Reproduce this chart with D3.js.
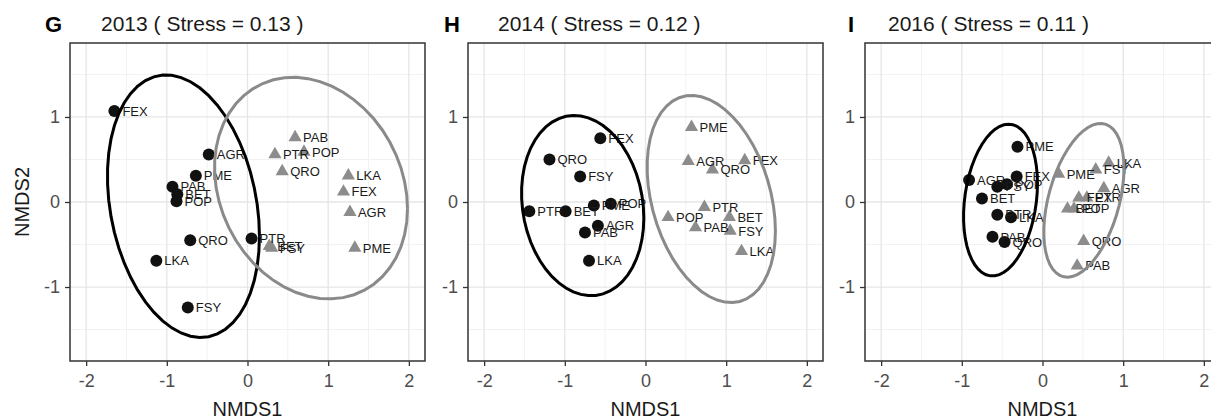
<!DOCTYPE html>
<html lang="en">
<head>
<meta charset="UTF-8">
<title>NMDS ordination</title>
<style>
    body { margin: 0; background: #fff; }
    svg text { font-family: 'Liberation Sans', Arial, sans-serif; }
</style>
</head>
<body>
<svg id="svg" width="1211" height="419"></svg>

<script src="https://d3js.org/d3.v7.min.js"></script>
<script>
    // data
    const years = ['2013', '2014', '2016']
    const letters = ['G', 'H', 'I']
    const stress = ['0.13', '0.12', '0.11']
    const species = ['FEX', 'AGR', 'PME', 'PAB', 'BET', 'POP', 'QRO', 'PTR', 'LKA', 'FSY']

    // group 1 (black circles), in species order
    const circleX2013 = [-1.65, -0.48, -0.64, -0.93, -0.87, -0.88, -0.71, 0.05, -1.13, -0.74]
    const circleY2013 = [1.07, 0.56, 0.31, 0.18, 0.09, 0.01, -0.45, -0.43, -0.69, -1.24]
    const circleX2014 = [-0.56, -0.59, -0.64, -0.75, -0.99, -0.43, -1.19, -1.44, -0.70, -0.81]
    const circleY2014 = [0.75, -0.28, -0.04, -0.36, -0.11, -0.02, 0.50, -0.11, -0.69, 0.30]
    const circleX2016 = [-0.32, -0.91, -0.31, -0.62, -0.75, -0.44, -0.47, -0.56, -0.39, -0.56]
    const circleY2016 = [0.30, 0.26, 0.65, -0.41, 0.04, 0.21, -0.47, -0.15, -0.18, 0.18]

    // group 2 (grey triangles), in species order
    const triX2013 = [1.19, 1.27, 1.33, 0.59, 0.27, 0.70, 0.43, 0.34, 1.25, 0.30]
    const triY2013 = [0.12, -0.12, -0.54, 0.76, -0.52, 0.59, 0.36, 0.56, 0.31, -0.54]
    const triX2014 = [1.23, 0.53, 0.57, 0.62, 1.04, 0.28, 0.83, 0.73, 1.19, 1.05]
    const triY2014 = [0.49, 0.48, 0.88, -0.30, -0.18, -0.18, 0.38, -0.06, -0.58, -0.34]
    const triX2016 = [0.45, 0.76, 0.20, 0.43, 0.31, 0.39, 0.51, 0.55, 0.82, 0.66]
    const triY2016 = [0.05, 0.16, 0.33, -0.75, -0.08, -0.08, -0.46, 0.05, 0.46, 0.38]

    const circleX = [circleX2013, circleX2014, circleX2016]
    const circleY = [circleY2013, circleY2014, circleY2016]
    const triX = [triX2013, triX2014, triX2016]
    const triY = [triY2013, triY2014, triY2016]

    const xTicks = [-2, -1, 0, 1, 2]
    const yTicks = [-1, 0, 1]
    const minorTicks = [-1.5, -0.5, 0.5, 1.5]

    // layout
    const panelLeft = [70, 468, 865]
    const letterX = [45, 444, 848]
    const titleX = [101, 498, 888]
    const plotTop = 43
    const pw = 355
    const ph = 318

    const xScale = d3.scaleLinear().domain([-2.2, 2.2]).range([0, pw])
    const yScale = d3.scaleLinear().domain([-1.87, 1.87]).range([ph, 0])

    // robust t covariance (like MASS::cov.trob) + stat_ellipse, level 0.95
    function covTrob(pts) {
        const n = pts.length, p = 2, nu = 5
        let loc = [d3.mean(pts, d => d[0]), d3.mean(pts, d => d[1])]
        let w = pts.map(() => 1)
        let X
        for (let iter = 0; iter < 25; iter++) {
            const w0 = w
            X = pts.map(d => [d[0] - loc[0], d[1] - loc[1]])
            const sw = d3.sum(w)
            let a = 0, b = 0, c = 0
            X.forEach((v, i) => { a += w[i] * v[0] * v[0]; b += w[i] * v[0] * v[1]; c += w[i] * v[1] * v[1] })
            a /= sw; b /= sw; c /= sw
            const det = a * c - b * b
            const Q = X.map(v => (c * v[0] * v[0] - 2 * b * v[0] * v[1] + a * v[1] * v[1]) / det)
            w = Q.map(q => (nu + p) / (nu + q))
            const sw2 = d3.sum(w)
            loc = [d3.sum(pts, (d, i) => w[i] * d[0]) / sw2, d3.sum(pts, (d, i) => w[i] * d[1]) / sw2]
            if (w.every((v, i) => Math.abs(v - w0[i]) < 0.01)) break
        }
        let a = 0, b = 0, c = 0
        X.forEach((v, i) => { a += w[i] * v[0] * v[0]; b += w[i] * v[0] * v[1]; c += w[i] * v[1] * v[1] })
        return { center: loc, cov: [[a / n, b / n], [b / n, c / n]] }
    }

    function ellipse(xs, ys) {
        const pts = xs.map((x, i) => [x, ys[i]])
        const n = pts.length
        const { center, cov } = covTrob(pts)
        const r11 = Math.sqrt(cov[0][0])
        const r12 = cov[0][1] / r11
        const r22 = Math.sqrt(cov[1][1] - r12 * r12)
        const df = n - 1
        const qf = df / 2 * (Math.pow(0.05, -2 / df) - 1)
        const radius = Math.sqrt(2 * qf)
        return d3.range(0, 52).map(k => {
            const t = k * 2 * Math.PI / 51
            const ct = Math.cos(t), st = Math.sin(t)
            return [center[0] + radius * ct * r11, center[1] + radius * (ct * r12 + st * r22)]
        })
    }

    const svg = d3.select('#svg')
    const line = d3.line().x(d => xScale(d[0])).y(d => yScale(d[1]))

    years.forEach((year, k) => {
        const g = svg.append('g').attr('transform', `translate(${panelLeft[k]},${plotTop})`)

        // grid
        g.selectAll('.vminor').data(minorTicks).enter().append('line')
            .attr('x1', d => xScale(d)).attr('x2', d => xScale(d))
            .attr('y1', 0).attr('y2', ph)
            .attr('stroke', '#f2f2f2').attr('stroke-width', 1)
        g.selectAll('.hminor').data(minorTicks).enter().append('line')
            .attr('y1', d => yScale(d)).attr('y2', d => yScale(d))
            .attr('x1', 0).attr('x2', pw)
            .attr('stroke', '#f2f2f2').attr('stroke-width', 1)
        g.selectAll('.vmajor').data(xTicks).enter().append('line')
            .attr('x1', d => xScale(d)).attr('x2', d => xScale(d))
            .attr('y1', 0).attr('y2', ph)
            .attr('stroke', '#e6e6e6').attr('stroke-width', 1.3)
        g.selectAll('.hmajor').data(yTicks).enter().append('line')
            .attr('y1', d => yScale(d)).attr('y2', d => yScale(d))
            .attr('x1', 0).attr('x2', pw)
            .attr('stroke', '#e6e6e6').attr('stroke-width', 1.3)

        // axes
        const xAxis = g.append('g').attr('transform', `translate(0,${ph})`)
            .call(d3.axisBottom(xScale).tickValues(xTicks).tickSize(5).tickPadding(8).tickFormat(d3.format('d')))
        const yAxis = g.append('g')
            .call(d3.axisLeft(yScale).tickValues(yTicks).tickSize(5).tickPadding(5).tickFormat(d3.format('d')))
        ;[xAxis, yAxis].forEach(ax => {
            ax.select('.domain').remove()
            ax.selectAll('line').attr('stroke', '#333').attr('stroke-width', 1.3)
            ax.selectAll('text').attr('fill', '#4d4d4d').style('font-size', '18px')
                .style('font-family', "'Liberation Sans', Arial, sans-serif")
        })
        xAxis.selectAll('text').text(d => d < 0 ? '-' + Math.abs(d) : d)
        yAxis.selectAll('text').text(d => d < 0 ? '-' + Math.abs(d) : d)

        // points
        const cx = circleX[k], cy = circleY[k], tx = triX[k], ty = triY[k]
        g.selectAll('.circ').data(species).enter().append('circle')
            .attr('cx', (d, i) => xScale(cx[i]))
            .attr('cy', (d, i) => yScale(cy[i]))
            .attr('r', 6)
            .attr('fill', '#111')
        g.selectAll('.tri').data(species).enter().append('path')
            .attr('d', d3.symbol(d3.symbolTriangle, 75))
            .attr('transform', (d, i) => `translate(${xScale(tx[i])},${yScale(ty[i])})`)
            .attr('fill', '#8c8c8c')

        // labels
        g.selectAll('.clab').data(species).enter().append('text')
            .attr('x', (d, i) => xScale(cx[i]) + 8)
            .attr('y', (d, i) => yScale(cy[i]))
            .attr('dy', '0.36em')
            .style('font-size', '13px')
            .attr('fill', '#1a1a1a')
            .text(d => d)
        g.selectAll('.tlab').data(species).enter().append('text')
            .attr('x', (d, i) => xScale(tx[i]) + 8)
            .attr('y', (d, i) => yScale(ty[i]))
            .attr('dy', '0.36em')
            .style('font-size', '13px')
            .attr('fill', '#1a1a1a')
            .text(d => d)

        // ellipses
        g.append('path').attr('d', line(ellipse(cx, cy)))
            .attr('fill', 'none').attr('stroke', '#000').attr('stroke-width', 3)
        g.append('path').attr('d', line(ellipse(tx, ty)))
            .attr('fill', 'none').attr('stroke', '#8a8a8a').attr('stroke-width', 3)

        // border
        g.append('rect').attr('width', pw).attr('height', ph)
            .attr('fill', 'none').attr('stroke', '#333').attr('stroke-width', 1.5)

        // titles
        svg.append('text').attr('x', letterX[k]).attr('y', 32)
            .style('font-size', '22px').style('font-weight', 'bold').attr('fill', '#000')
            .text(letters[k])
        svg.append('text').attr('x', titleX[k]).attr('y', 31)
            .style('font-size', '21px').attr('fill', '#1a1a1a')
            .text(`${year} ( Stress = ${stress[k]} )`)
        svg.append('text').attr('x', panelLeft[k] + pw / 2).attr('y', 416)
            .attr('text-anchor', 'middle')
            .style('font-size', '20px').attr('fill', '#1a1a1a')
            .text('NMDS1')
    })

    svg.append('text')
        .attr('transform', `translate(29,${plotTop + ph / 2}) rotate(-90)`)
        .attr('text-anchor', 'middle')
        .style('font-size', '20px').attr('fill', '#1a1a1a')
        .text('NMDS2')
</script>
</body>
</html>
